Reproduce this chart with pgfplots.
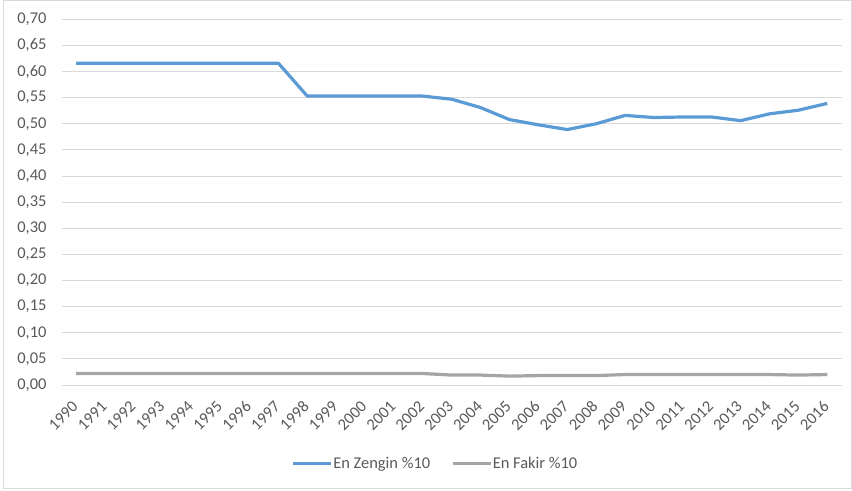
\documentclass[border=0pt]{standalone}
\usepackage{fontspec}
\setmainfont{Carlito}
\usepackage{pgfplots}
\pgfplotsset{compat=1.18}
\definecolor{zblue}{HTML}{5B9BD5}
\definecolor{zgray}{HTML}{A5A5A5}
\definecolor{ztext}{HTML}{595959}
\definecolor{zgrid}{HTML}{D9D9D9}
\begin{document}
\begin{tikzpicture}
\begin{axis}[
  scale only axis,
  width=780bp, height=365.7bp,
  xmin=1989.5, xmax=2016.5,
  ymin=0, ymax=0.70,
  xtick={1990,...,2016},
  ytick={0,0.05,...,0.701},
  axis line style={draw=none},
  major tick length=0pt,
  ymajorgrids,
  major grid style={draw=zgrid, line width=0.9bp},
  tick label style={font=\fontsize{16.5}{19}\selectfont, text=ztext, inner sep=0pt},
  /pgf/number format/assume math mode=true,
  yticklabel style={/pgf/number format/fixed, /pgf/number format/fixed zerofill, /pgf/number format/precision=2, /pgf/number format/use comma, xshift=-15bp},
  xticklabel style={xshift=-1bp, yshift=-19bp, rotate=45, anchor=east, /pgf/number format/1000 sep={}},
  legend style={at={(0.4786,-0.2147)}, anchor=center, draw=none, fill=none,
    font=\fontsize{16.5}{19}\selectfont, text=ztext,
    nodes={inner sep=1bp},
    /tikz/every even column/.append style={column sep=20bp}},
  legend columns=2,
  legend cell align=left,
  legend image code/.code={\draw[#1, line width=2.6bp] (0,0) -- (38bp,0);},
  clip=false,
]
\addplot[zblue, line width=3.2bp, line join=round] coordinates {
(1990,0.616)(1991,0.616)(1992,0.616)(1993,0.616)(1994,0.616)(1995,0.616)(1996,0.616)(1997,0.616)
(1998,0.553)(1999,0.553)(2000,0.553)(2001,0.553)(2002,0.553)(2003,0.547)(2004,0.531)
(2005,0.508)(2006,0.498)(2007,0.489)(2008,0.500)(2009,0.516)(2010,0.512)(2011,0.513)
(2012,0.513)(2013,0.506)(2014,0.519)(2015,0.526)(2016,0.539)};
\addlegendentry{En Zengin \%10}
\addplot[zgray, line width=3.2bp, line join=round] coordinates {
(1990,0.022)(1991,0.022)(1992,0.022)(1993,0.022)(1994,0.022)(1995,0.022)(1996,0.022)(1997,0.022)
(1998,0.022)(1999,0.022)(2000,0.022)(2001,0.022)(2002,0.022)(2003,0.019)(2004,0.019)
(2005,0.017)(2006,0.018)(2007,0.018)(2008,0.018)(2009,0.020)(2010,0.020)(2011,0.020)
(2012,0.020)(2013,0.020)(2014,0.020)(2015,0.019)(2016,0.020)};
\addlegendentry{En Fakir \%10}
\end{axis}
\path ([xshift=-61.7bp,yshift=-106bp]current axis.south west) rectangle ([xshift=10.3bp,yshift=19.3bp]current axis.north east);
\draw[zgrid, line width=1bp] ([xshift=-57.7bp,yshift=-103bp]current axis.south west) rectangle ([xshift=9.3bp,yshift=18.8bp]current axis.north east);
\end{tikzpicture}
\end{document}
